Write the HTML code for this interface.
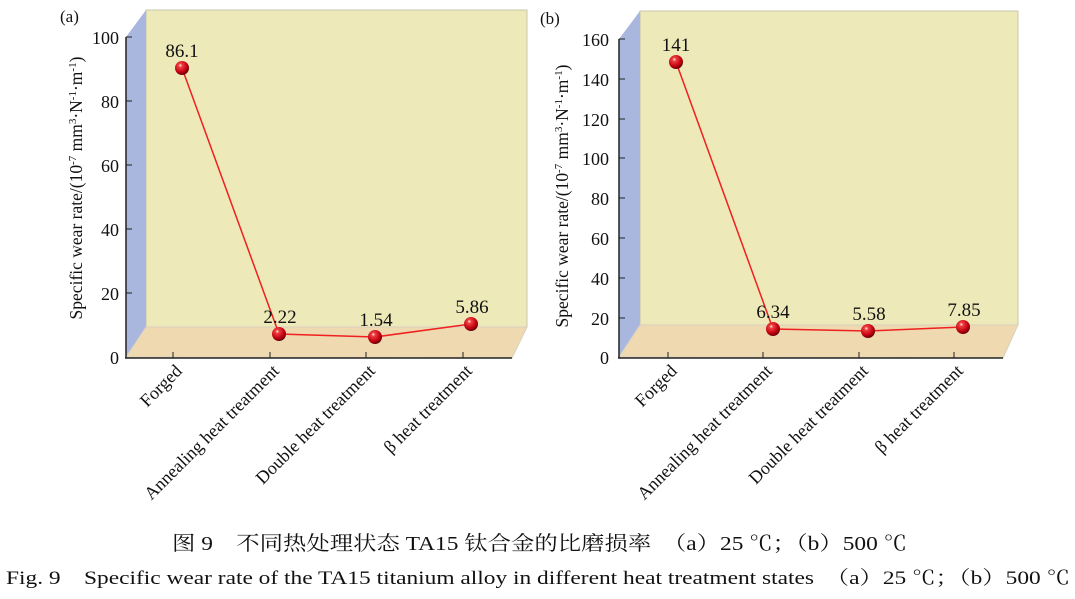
<!DOCTYPE html>
<html><head><meta charset="utf-8"><style>
html,body{margin:0;padding:0;background:#fff;}
svg{display:block;}
text{font-family:"Liberation Serif","Noto Serif CJK SC",serif;fill:#111;}
</style></head><body>
<svg width="1075" height="599" viewBox="0 0 1075 599" xmlns="http://www.w3.org/2000/svg">
<defs>
<radialGradient id="sp" cx="0.38" cy="0.32" r="0.7">
<stop offset="0" stop-color="#fff"/><stop offset="0.18" stop-color="#f04040"/><stop offset="0.7" stop-color="#c00010"/><stop offset="1" stop-color="#600008"/>
</radialGradient>
</defs>
<!-- Panel a -->
<text x="60" y="22" font-size="17">(a)</text>
<rect x="146" y="10" width="381" height="317" fill="#ede9b8" stroke="#c8c8b0" stroke-width="1"/>
<polygon points="126,37 146,10 146,327 126,357" fill="#a9b6de"/>
<polygon points="126,357 146,327 527,327 512,358" fill="#efd9b0" stroke="#d8d0c0" stroke-width="1"/>
<line x1="126" y1="37" x2="126" y2="358" stroke="#222" stroke-width="1.5"/>
<line x1="125" y1="358" x2="512" y2="358" stroke="#222" stroke-width="1.5"/>
<g stroke="#222" stroke-width="1">
<line x1="126" y1="37" x2="132" y2="37"/><line x1="126" y1="101" x2="132" y2="101"/><line x1="126" y1="165" x2="132" y2="165"/><line x1="126" y1="229" x2="132" y2="229"/><line x1="126" y1="293" x2="132" y2="293"/>
<line x1="173" y1="358" x2="173" y2="352"/><line x1="270" y1="358" x2="270" y2="352"/><line x1="366" y1="358" x2="366" y2="352"/><line x1="463" y1="358" x2="463" y2="352"/>
</g>
<g font-size="18" text-anchor="end">
<text x="119" y="44">100</text><text x="119" y="108">80</text><text x="119" y="172">60</text><text x="119" y="236">40</text><text x="119" y="300">20</text><text x="119" y="364">0</text>
</g>
<text transform="translate(82,188) rotate(-90)" font-size="17.5" text-anchor="middle">Specific wear rate/(10<tspan font-size="11" dy="-6">-7</tspan><tspan dy="6"> mm</tspan><tspan font-size="11" dy="-6">3</tspan><tspan dy="6">·N</tspan><tspan font-size="11" dy="-6">-1</tspan><tspan dy="6">·m</tspan><tspan font-size="11" dy="-6">-1</tspan><tspan dy="6">)</tspan></text>
<g font-size="18" text-anchor="end">
<text transform="translate(183,372) rotate(-45)">Forged</text>
<text transform="translate(280,372) rotate(-45)">Annealing heat treatment</text>
<text transform="translate(376,372) rotate(-45)">Double heat treatment</text>
<text transform="translate(473,372) rotate(-45)">β heat treatment</text>
</g>
<polyline points="182,68 279,334 375,337 471,324" fill="none" stroke="#ee2020" stroke-width="1.5"/>
<circle cx="182" cy="68" r="7" fill="url(#sp)"/><circle cx="279" cy="334" r="7" fill="url(#sp)"/><circle cx="375" cy="337" r="7" fill="url(#sp)"/><circle cx="471" cy="324" r="7" fill="url(#sp)"/>
<g font-size="19" text-anchor="middle">
<text x="182" y="57">86.1</text><text x="280" y="323">2.22</text><text x="376" y="326">1.54</text><text x="472" y="313">5.86</text>
</g>

<!-- Panel b -->
<text x="540" y="24" font-size="17">(b)</text>
<rect x="640" y="11" width="378" height="314" fill="#ede9b8" stroke="#c8c8b0" stroke-width="1"/>
<polygon points="619,39 640,11 640,325 619,357" fill="#a9b6de"/>
<polygon points="619,357 640,325 1018,325 1003,358" fill="#efd9b0" stroke="#d8d0c0" stroke-width="1"/>
<line x1="619" y1="39" x2="619" y2="358" stroke="#222" stroke-width="1.5"/>
<line x1="618" y1="358" x2="1003" y2="358" stroke="#222" stroke-width="1.5"/>
<g stroke="#222" stroke-width="1">
<line x1="619" y1="39" x2="625" y2="39"/><line x1="619" y1="79" x2="625" y2="79"/><line x1="619" y1="119" x2="625" y2="119"/><line x1="619" y1="158" x2="625" y2="158"/><line x1="619" y1="198" x2="625" y2="198"/><line x1="619" y1="238" x2="625" y2="238"/><line x1="619" y1="278" x2="625" y2="278"/><line x1="619" y1="318" x2="625" y2="318"/>
<line x1="668" y1="358" x2="668" y2="352"/><line x1="763" y1="358" x2="763" y2="352"/><line x1="859" y1="358" x2="859" y2="352"/><line x1="954" y1="358" x2="954" y2="352"/>
</g>
<g font-size="18" text-anchor="end">
<text x="609" y="46">160</text><text x="609" y="86">140</text><text x="609" y="126">120</text><text x="609" y="165">100</text><text x="609" y="205">80</text><text x="609" y="245">60</text><text x="609" y="285">40</text><text x="609" y="325">20</text><text x="609" y="364">0</text>
</g>
<text transform="translate(568,196) rotate(-90)" font-size="17.5" text-anchor="middle">Specific wear rate/(10<tspan font-size="11" dy="-6">-7</tspan><tspan dy="6"> mm</tspan><tspan font-size="11" dy="-6">3</tspan><tspan dy="6">·N</tspan><tspan font-size="11" dy="-6">-1</tspan><tspan dy="6">·m</tspan><tspan font-size="11" dy="-6">-1</tspan><tspan dy="6">)</tspan></text>
<g font-size="18" text-anchor="end">
<text transform="translate(678,372) rotate(-45)">Forged</text>
<text transform="translate(773,372) rotate(-45)">Annealing heat treatment</text>
<text transform="translate(869,372) rotate(-45)">Double heat treatment</text>
<text transform="translate(964,372) rotate(-45)">β heat treatment</text>
</g>
<polyline points="676,62 773,329 868,331 963,327" fill="none" stroke="#ee2020" stroke-width="1.5"/>
<circle cx="676" cy="62" r="7" fill="url(#sp)"/><circle cx="773" cy="329" r="7" fill="url(#sp)"/><circle cx="868" cy="331" r="7" fill="url(#sp)"/><circle cx="963" cy="327" r="7" fill="url(#sp)"/>
<g font-size="19" text-anchor="middle">
<text x="676" y="51">141</text><text x="773" y="318">6.34</text><text x="869" y="320">5.58</text><text x="964" y="316">7.85</text>
</g>

<!-- Captions -->
<text x="172" y="550" font-size="20" textLength="735" lengthAdjust="spacingAndGlyphs">图 9　不同热处理状态 TA15 钛合金的比磨损率　（a）25 ℃；（b）500 ℃</text>
<text x="6" y="584" font-size="19" textLength="1064" lengthAdjust="spacingAndGlyphs">Fig. 9　Specific wear rate of the TA15 titanium alloy in different heat treatment states　（a）25 ℃；（b）500 ℃</text>
</svg>
</body></html>
